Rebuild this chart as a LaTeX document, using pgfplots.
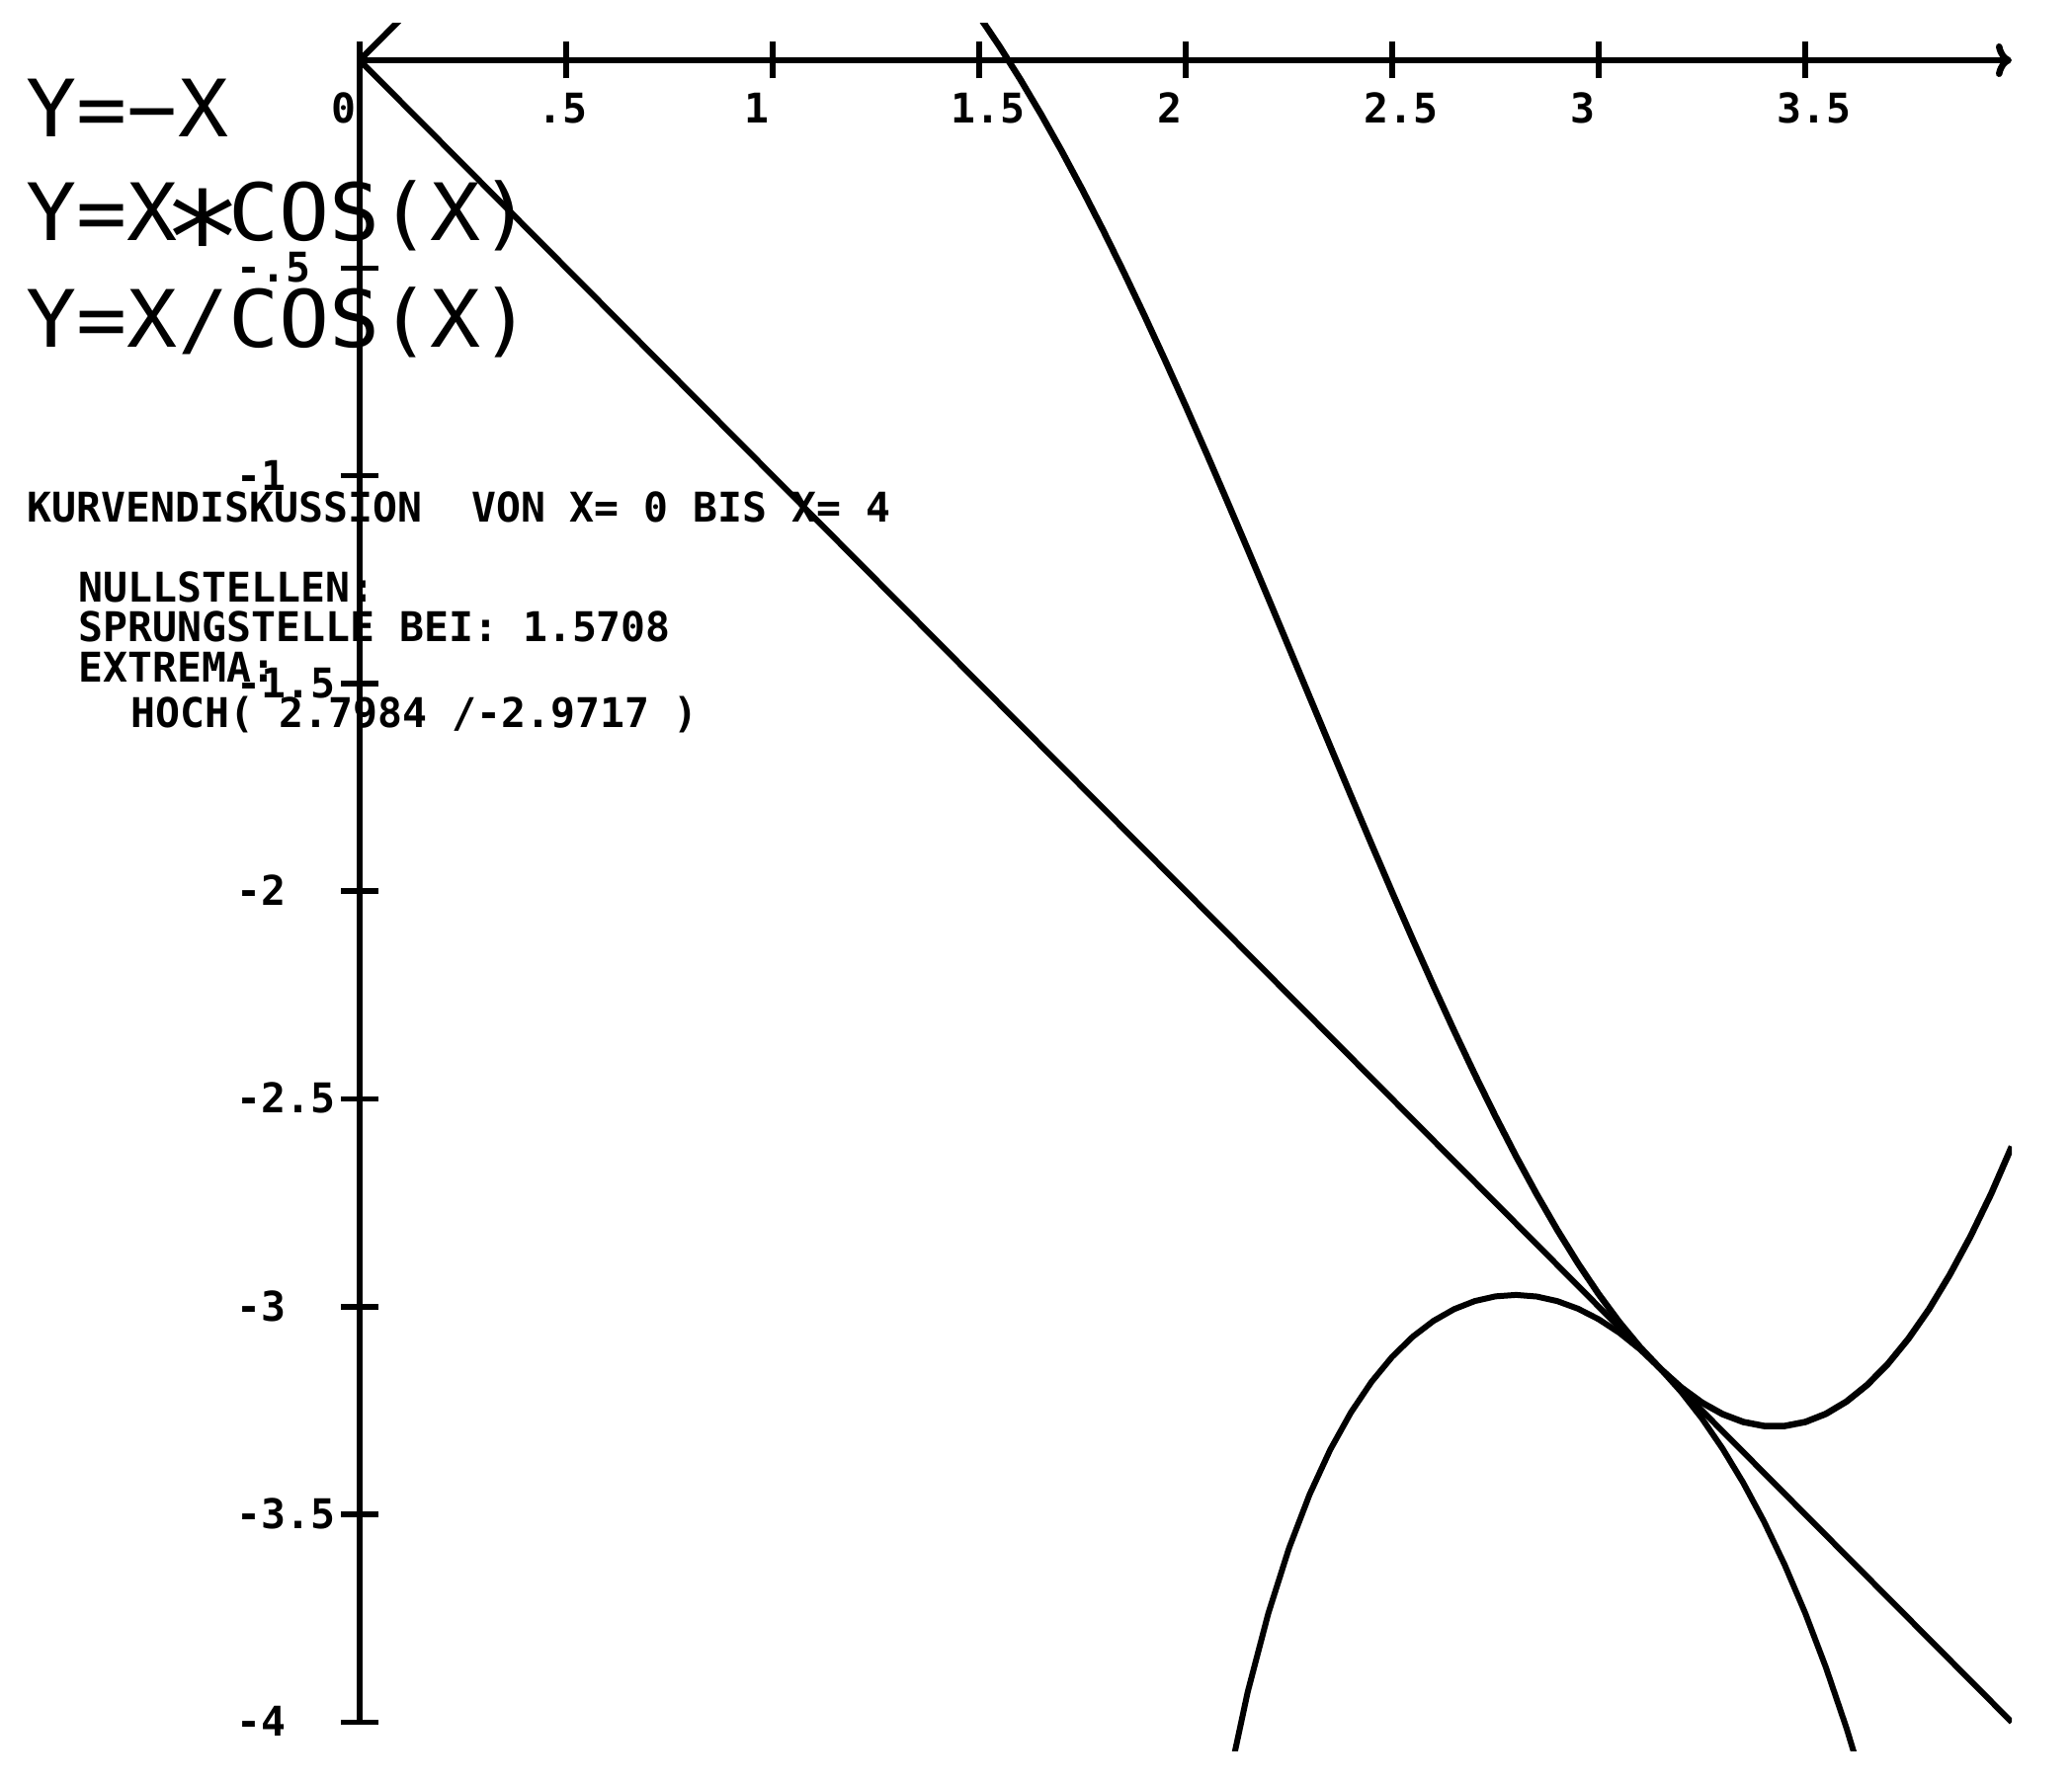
\documentclass[border=0pt]{standalone}
\usepackage{fontspec}
\setmainfont{DejaVu Sans Mono}
\usepackage{graphicx}
\usepackage{pgfplots}
\pgfplotsset{compat=1.18}
\usetikzlibrary{arrows.meta}
\newfontfamily\plotfont{DejaVu Sans Mono}
\newfontfamily\plotwidefont[FakeStretch=1.06]{DejaVu Sans Mono}
\newcommand\bigplotfont{\plotwidefont\fontsize{22.8pt}{27pt}\selectfont}
\newcommand\smallplotfont{\plotfont\bfseries\fontsize{11.8pt}{14pt}\selectfont}
\newcommand\bigstar{\makebox[0.638em]{\raisebox{-0.2em}{\scalebox{1.6}{∗}}}}

\begin{document}
\begin{tikzpicture}
\begin{axis}[
  x=41.8mm, y=42.06mm,
  xmin=0, xmax=4, ymin=-4.07, ymax=0.09,
  enlargelimits=false,
  axis lines=middle,
  axis line style={line width=0.65mm, black},
  x axis line style={-{To[length=1.6mm,width=3.4mm]}},
  y axis line style={-, shorten <=2.94mm, shorten >=3.4mm},
  hide obscured x ticks=false,
  hide obscured y ticks=false,
  xtick={0,0.5,1,1.5,2,2.5,3,3.5},
  xticklabels={0,.5,1,1.5,2,2.5,3,3.5},
  ytick={-4,-3.5,-3,-2.5,-2,-1.5,-1,-0.5},
  yticklabels={-4,-3.5,-3,-2.5,-2,-1.5,-1,-.5},
  tick align=center,
  major tick length=3.7mm,
  tick style={line width=0.55mm, black},
  ticklabel style={font=\smallplotfont, inner sep=0pt},
  xticklabel style={anchor=base west, xshift=-2.9mm, yshift=-4.5mm},
  yticklabel style={anchor=base west, xshift=-10.7mm, yshift=-1.45mm},
  clip=true,
]
\coordinate (O) at (axis cs:0,0);
% Y = -X
\addplot[black, line width=0.6mm, mark=none] coordinates {(0,0) (4,-4)};
% Y = X*COS(X)
\addplot[black, line width=0.6mm, mark=none, line join=round] coordinates {
(0,0) (0.05,0.04994) (0.1,0.0995) (0.15,0.14832)
};
\addplot[black, line width=0.65mm, mark=none, line join=round] coordinates {
(1.45,0.17473) (1.5,0.106106) (1.55,0.032232) (1.6,-0.046719) (1.65,-0.13055)
(1.7,-0.219035) (1.75,-0.31193) (1.8,-0.408964) (1.85,-0.509842) (1.9,-0.614251)
(1.95,-0.721851) (2.0,-0.832294) (2.05,-0.94521) (2.1,-1.060177) (2.15,-1.17682)
(2.2,-1.294702) (2.25,-1.41339) (2.3,-1.532435) (2.35,-1.651376) (2.4,-1.769746)
(2.45,-1.887066) (2.5,-2.00286) (2.55,-2.116633) (2.6,-2.227911) (2.65,-2.336192)
(2.7,-2.440994) (2.75,-2.541831) (2.8,-2.638222) (2.85,-2.729693) (2.9,-2.815778)
(2.95,-2.896021) (3.0,-2.969977) (3.05,-3.037214) (3.1,-3.097319) (3.15,-3.149887)
(3.2,-3.194544) (3.25,-3.230923) (3.3,-3.258684) (3.35,-3.277513) (3.4,-3.287113)
(3.45,-3.287222) (3.5,-3.2776) (3.55,-3.25803) (3.6,-3.228329) (3.65,-3.188337)
(3.7,-3.137922) (3.75,-3.076984) (3.8,-3.005678) (3.85,-2.923193) (3.9,-2.831135)
(3.95,-2.728755) (4.0,-2.614574)
};
% Y = X/COS(X)
\addplot[black, line width=0.6mm, mark=none, line join=round] coordinates {
(0,0) (0.05,0.05006) (0.1,0.1005) (0.15,0.1517)
};
\addplot[black, line width=0.6mm, mark=none, line join=round] coordinates {
(2.05,-4.44610) (2.1,-4.15968) (2.15,-3.92796) (2.2,-3.73831) (2.25,-3.58181)
(2.3,-3.45202) (2.35,-3.34418) (2.4,-3.25470) (2.45,-3.18086) (2.5,-3.12054)
(2.55,-3.07210) (2.6,-3.03423) (2.65,-3.00596) (2.7,-2.98649) (2.75,-2.97522)
(2.8,-2.97170) (2.85,-2.97561) (2.9,-2.98674) (2.95,-3.00498) (3.0,-3.03033)
(3.05,-3.06284) (3.1,-3.10268) (3.15,-3.15011) (3.2,-3.20547) (3.25,-3.26919)
(3.3,-3.34184) (3.35,-3.42409) (3.4,-3.51676) (3.45,-3.62084) (3.5,-3.73750)
(3.55,-3.86814) (3.6,-4.01446) (3.65,-4.17851)
};
\end{axis}
% function labels
\node[anchor=base west, inner sep=0pt, font=\bigplotfont] at ([shift={(-33.8mm,-7.8mm)}]O) {Y=−X};
\node[anchor=base west, inner sep=0pt, font=\bigplotfont] at ([shift={(-33.8mm,-18.3mm)}]O) {Y=X\bigstar COS(X)};
\node[anchor=base west, inner sep=0pt, font=\bigplotfont] at ([shift={(-33.8mm,-29.1mm)}]O) {Y=X/COS(X)};
% analysis text
\node[anchor=base west, inner sep=0pt, font=\smallplotfont] at ([shift={(-33.7mm,-46.8mm)}]O) {KURVENDISKUSSION\ \ VON X=\ 0 BIS X=\ 4};
\node[anchor=base west, inner sep=0pt, font=\smallplotfont] at ([shift={(-28.5mm,-54.9mm)}]O) {NULLSTELLEN:};
\node[anchor=base west, inner sep=0pt, font=\smallplotfont] at ([shift={(-28.5mm,-58.9mm)}]O) {SPRUNGSTELLE BEI:\ 1.5708};
\node[anchor=base west, inner sep=0pt, font=\smallplotfont] at ([shift={(-28.5mm,-63.0mm)}]O) {EXTREMA:};
\node[anchor=base west, inner sep=0pt, font=\smallplotfont] at ([shift={(-23.2mm,-67.6mm)}]O) {HOCH(\ 2.7984 /-2.9717 )};
\pgfresetboundingbox
\path ([shift={(-36.4mm,-174.5mm)}]O) rectangle ([shift={(173.3mm,6.1mm)}]O);
\end{tikzpicture}
\end{document}
